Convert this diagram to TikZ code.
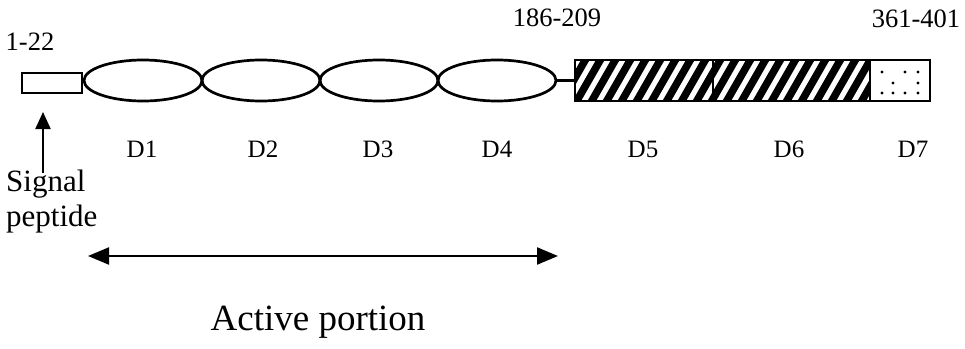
\documentclass[tikz,border=0pt]{standalone}
\usepackage{fontspec}
\setmainfont{Liberation Serif}
\usetikzlibrary{shapes.geometric,arrows.meta}
\tikzset{
  domainell/.style={ellipse, draw, line width=2.7pt, minimum width=118pt, minimum height=41pt, inner sep=0pt},
  numlabel/.style={font=\fontsize{26.5}{28}\selectfont, inner sep=0pt},
  dlabel/.style={font=\fontsize{25}{27}\selectfont, inner sep=0pt},
  bigtext/.style={font=\fontsize{31}{35}\selectfont, inner sep=0pt, align=left},
  boxline/.style={draw, line width=2pt},
  tri/.style={-{Triangle[length=17pt,width=15pt]}, line width=2.2pt},
  dbl/.style={{Triangle[length=21pt,width=17pt]}-{Triangle[length=21pt,width=17pt]}, line width=2.2pt}
}
\begin{document}
\begin{tikzpicture}[x=1pt,y=-1pt]
\useasboundingbox (0,0) rectangle (965,348);
% signal peptide box
\node[boxline, minimum width=60pt, minimum height=20pt, inner sep=0pt] (sig) at (52,83) {};
% ellipses
\node[domainell] (e1) at (143,80.5) {};
\node[domainell] (e2) at (261,80.5) {};
\node[domainell] (e3) at (379,80.5) {};
\node[domainell] (e4) at (497,80.5) {};
% hatched and dotted boxes
\node[minimum width=138pt, minimum height=41pt, inner sep=0pt] (d5) at (644,80.5) {};
\node[minimum width=157pt, minimum height=41pt, inner sep=0pt] (d6) at (791.5,80.5) {};
\node[minimum width=60pt, minimum height=41pt, inner sep=0pt] (d7) at (900,80.5) {};
\begin{scope}
  \clip (d5.south west) rectangle (d6.north east);
  \foreach \x in {545,560,...,890} {
    \draw[line width=7.5pt] (\x,104) -- (\x+27,57);
  }
\end{scope}
\draw[line width=2.4pt] (d5.north west) rectangle (d5.south east);
\draw[line width=2.4pt] (d6.north west) rectangle (d6.south east);
\draw[line width=2.4pt] (d7.north west) rectangle (d7.south east);
\foreach \x/\y in {882/72,905/72,918/72,893/83,918/83,882/93,893/93,905/93,918/93} {
  \fill (\x,\y) circle (1.6pt);
}
\draw[line width=2.2pt] (e4.east) -- (d5.west);
% labels
\node[numlabel] (l1) at (30,42) {1-22};
\node[numlabel] (l2) at (557,18) {186-209};
\node[numlabel] (l3) at (916,19) {361-401};
\node[dlabel] (D1) at (142,149) {D1};
\node[dlabel] (D2) at (263,149) {D2};
\node[dlabel] (D3) at (378,149) {D3};
\node[dlabel] (D4) at (497,149) {D4};
\node[dlabel] (D5) at (643,149) {D5};
\node[dlabel] (D6) at (789,149) {D6};
\node[dlabel] (D7) at (913,149) {D7};
% signal peptide text and arrow
\node[bigtext, anchor=north west] (sigtext) at (6,170) {Signal\\peptide};
\coordinate (sigtip) at (43,112);
\coordinate (sigfoot) at (43,173);
\draw[tri] (sigfoot) -- (sigtip);
% active portion
\coordinate (apl) at (88,256);
\coordinate (apr) at (558,256);
\draw[dbl] (apl) -- (apr);
\node[bigtext, font=\fontsize{37}{38}\selectfont] (active) at (318,322) {Active portion};
\end{tikzpicture}
\end{document}
